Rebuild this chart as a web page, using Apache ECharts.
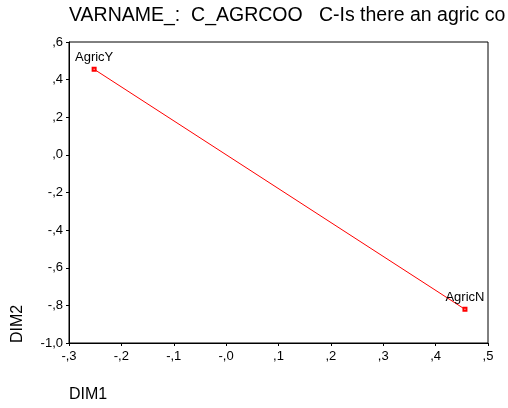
<!DOCTYPE html>
<html><head><meta charset="utf-8">
<script src="https://cdn.jsdelivr.net/npm/echarts@6/dist/echarts.min.js"></script>
<style>html,body{margin:0;padding:0;background:#fff}#c{width:508px;height:408px}</style>
</head><body><div id="c"></div>
<script>
const titleText = "VARNAME_:  C_AGRCOO   C-Is there an agric co";
const pointNames = ["AgricY", "AgricN"];
const dim1 = [-0.252, 0.456];
const dim2 = [0.455, -0.821];
const xTickValues = [-0.3, -0.2, -0.1, 0.0, 0.1, 0.2, 0.3, 0.4, 0.5];
const xTickLabels = ["-,3", "-,2", "-,1", "-,0", ",1", ",2", ",3", ",4", ",5"];
const yTickValues = [-1.0, -0.8, -0.6, -0.4, -0.2, 0.0, 0.2, 0.4, 0.6];
const yTickLabels = ["-1,0", "-,8", "-,6", "-,4", "-,2", ",0", ",2", ",4", ",6"];
const xName = "DIM1";
const yName = "DIM2";

function lookup(vals, labels, v) {
  for (let i = 0; i < vals.length; i++) if (Math.abs(vals[i] - v) < 1e-6) return labels[i];
  return "";
}
const FONT = "Liberation Sans, Arial, sans-serif";
const chart = echarts.init(document.getElementById('c'), null, {renderer: 'canvas'});
chart.setOption({
  animation: false,
  backgroundColor: '#fff',
  title: {
    text: titleText, left: 64, top: 1,
    textStyle: {fontFamily: FONT, fontSize: 19.5, fontWeight: 'normal', color: '#000'}
  },
  grid: {left: 69, right: 20, top: 42, bottom: 65, show: true, borderColor: '#000', borderWidth: 1, backgroundColor: 'transparent'},
  xAxis: {
    type: 'value', min: -0.3, max: 0.5, interval: 0.1,
    axisLine: {show: true, onZero: false, lineStyle: {color: '#000', width: 1}},
    axisTick: {show: true, length: 3, lineStyle: {color: '#000'}},
    splitLine: {show: false},
    axisLabel: {color: '#000', fontFamily: FONT, fontSize: 13, margin: 7,
      formatter: v => lookup(xTickValues, xTickLabels, v)}
  },
  yAxis: {
    type: 'value', min: -1.0, max: 0.6, interval: 0.2,
    axisLine: {show: true, onZero: false, lineStyle: {color: '#000', width: 1}},
    axisTick: {show: true, length: 3, lineStyle: {color: '#000'}},
    splitLine: {show: false},
    axisLabel: {color: '#000', fontFamily: FONT, fontSize: 13, margin: 6,
      formatter: v => lookup(yTickValues, yTickLabels, v)}
  },
  graphic: [
    {type: 'text', left: 69, top: 387, style: {text: xName, font: '16px ' + FONT, fill: '#000'}},
    {type: 'text', x: 10, y: 343, rotation: Math.PI / 2, style: {text: yName, font: '16px ' + FONT, fill: '#000', textAlign: 'left', textVerticalAlign: 'top'}}
  ],
  series: [{
    type: 'line',
    data: dim1.map((x, i) => [x, dim2[i]]),
    symbol: 'emptyRect', symbolSize: 3,
    lineStyle: {color: '#ff0000', width: 1},
    itemStyle: {color: '#ff0000', borderWidth: 1},
    label: {show: true, position: 'top', distance: 3, color: '#000', fontFamily: FONT, fontSize: 13,
      formatter: p => pointNames[p.dataIndex]}
  }]
});
</script></body></html>
